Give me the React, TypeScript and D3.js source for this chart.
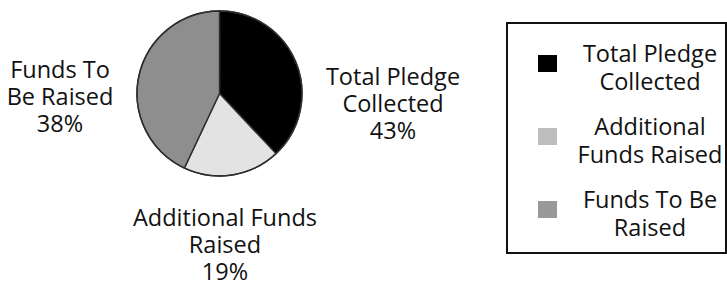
import React from "react";
import * as d3 from "d3";

const categories = ["Total Pledge Collected", "Additional Funds Raised", "Funds To Be Raised"];
// slice sizes as drawn in the picture
const sliceValues = [38, 19, 43];
// percentages printed on the labels
const labelPercents = ["43%", "19%", "38%"];
const pieLabelLines = [
  ["Total Pledge", "Collected"],
  ["Additional Funds", "Raised"],
  ["Funds To", "Be Raised"],
];
const legendLines = [
  ["Total Pledge", "Collected"],
  ["Additional", "Funds Raised"],
  ["Funds To Be", "Raised"],
];
const sliceColors = ["#000000", "#e3e3e3", "#8e8e8e"];
const swatchColors = ["#000000", "#bdbdbd", "#999999"];

const W = 727;
const H = 284;
const FONT = "'Open Sans', sans-serif";
const FS = 23.5;

export default function App() {
  const cx = 219.5;
  const cy = 93.5;
  const r = 82.5;
  const pie = d3.pie<number>().sort(null).value((d) => d)(sliceValues);
  const arc = d3.arc<d3.PieArcDatum<number>>().innerRadius(0).outerRadius(r);

  // label anchors (center x, first baseline)
  const labelPos = [
    { x: 393, y: 85 },
    { x: 225, y: 226 },
    { x: 60, y: 78 },
  ];
  const lineH = 27;

  const legendX = 507;
  const legendY = 23;
  const legendW = 219;
  const legendH = 230;
  const itemY = d3.scalePoint<number>().domain([0, 1, 2]).range([62, 208]);

  return (
    <svg
      width={W}
      height={H}
      style={{ position: "absolute", left: 0, top: 0, background: "#fff" }}
      fontFamily={FONT}
    >
      <rect x={0} y={0} width={W} height={H} fill="#fff" />
      <g transform={`translate(${cx},${cy})`}>
        {pie.map((p, i) => (
          <path key={i} d={arc(p) || ""} fill={sliceColors[i]} stroke="#2e2e2e" strokeWidth={1.4} />
        ))}
        <circle r={r} fill="none" stroke="#2e2e2e" strokeWidth={1.4} />
      </g>
      {categories.map((c, i) =>
        [...pieLabelLines[i], labelPercents[i]].map((t, j) => (
          <text
            key={c + j}
            x={labelPos[i].x}
            y={labelPos[i].y + j * lineH}
            textAnchor="middle"
            fontSize={FS}
            fill="#111"
          >
            {t}
          </text>
        ))
      )}
      <rect
        x={legendX}
        y={legendY}
        width={legendW}
        height={legendH}
        fill="#fff"
        stroke="#111"
        strokeWidth={2}
      />
      {categories.map((c, i) => {
        const by = itemY(i) as number;
        return (
          <g key={"lg" + c}>
            <rect x={538} y={by - 7} width={19} height={17} fill={swatchColors[i]} />
            {legendLines[i].map((t, j) => (
              <text key={j} x={650} y={by + j * 28} textAnchor="middle" fontSize={FS} fill="#111">
                {t}
              </text>
            ))}
          </g>
        );
      })}
    </svg>
  );
}
